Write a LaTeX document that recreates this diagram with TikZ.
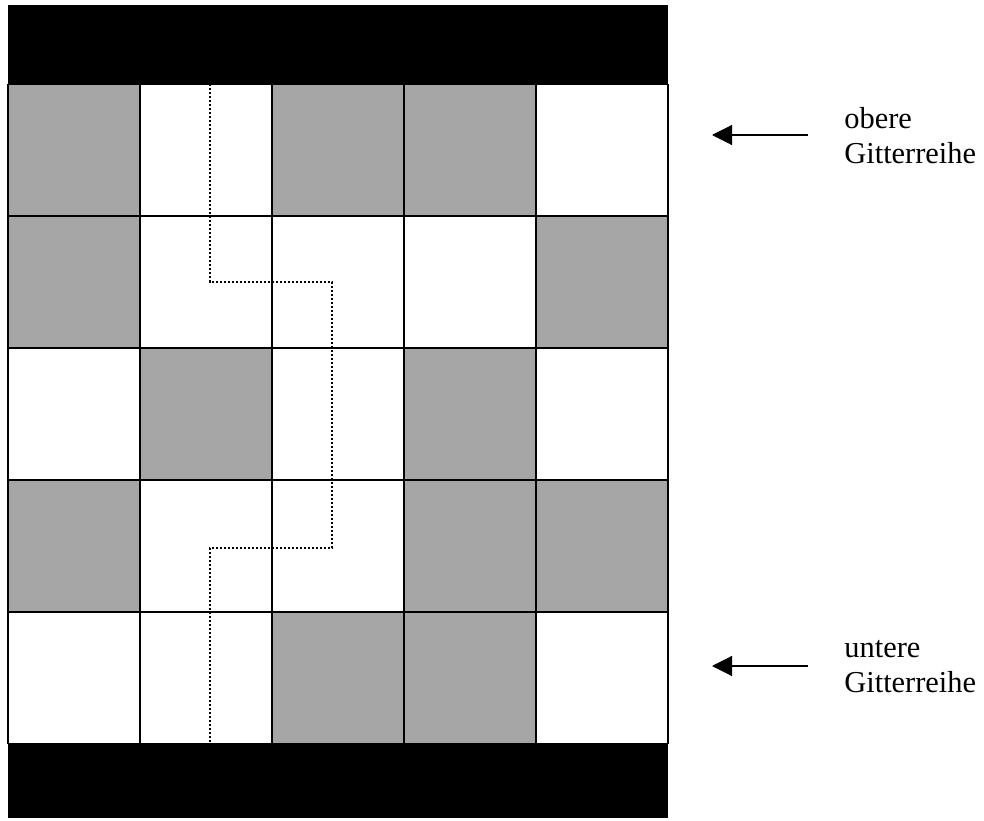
\documentclass[tikz,border=0pt]{standalone}
\usepackage{fontspec}
\setmainfont{Liberation Serif}
\usepackage{tikz}
\usetikzlibrary{arrows.meta}
\definecolor{zellgrau}{gray}{0.65}
\tikzset{
  gitter/.style={line width=1.1pt, draw=black},
  balken/.style={fill=black},
  pfad/.style={line width=1.2pt, dash pattern=on 1.1pt off 0.9pt},
  pfeil/.style={-{Triangle[length=10pt,width=10pt]}, line width=0.6pt},
  beschriftung/.style={align=left, inner sep=0pt, anchor=west,
    font=\fontsize{15.2}{17.5}\selectfont}
}

\begin{document}
\begin{tikzpicture}[x=0.5pt, y=0.5pt]
    \useasboundingbox (0,0) rectangle (984,820);
    % graue Zellen (Spalte/Zeile, Zeile 0 oben)
    \foreach \c/\r in {0/0, 2/0, 3/0, 0/1, 4/1, 1/2, 3/2, 0/3, 3/3, 4/3, 2/4, 3/4}
      \fill[zellgrau] (8+132*\c, 736-132*\r) rectangle ++(132,-132);
    % Gitterlinien
    \foreach \i in {0,...,5} {
      \draw[gitter] (8+132*\i, 76) -- (8+132*\i, 736);
      \draw[gitter] (8, 76+132*\i) -- (668, 76+132*\i);
    }
    % Balken oben und unten
    \fill[balken] (8,736) rectangle (668,815);
    \fill[balken] (8,2) rectangle (668,76);
    % Weg durch das Gitter
    \coordinate (start) at (210,736);
    \coordinate (k1) at (210,538);
    \coordinate (k2) at (332,538);
    \coordinate (k3) at (332,272);
    \coordinate (k4) at (210,272);
    \coordinate (ende) at (210,76);
    \draw[pfad] (start) -- (k1) -- (k2) -- (k3) -- (k4) -- (ende);
    % Beschriftungen
    \node[beschriftung] (oben) at (844,684) {obere\\Gitterreihe};
    \node[beschriftung] (unten) at (844,153) {untere\\Gitterreihe};
    \coordinate (obenstart) at (808,685);
    \coordinate (obenziel) at (712,685);
    \coordinate (untenstart) at (808,154);
    \coordinate (untenziel) at (712,154);
    \draw[pfeil] (obenstart) -- (obenziel);
    \draw[pfeil] (untenstart) -- (untenziel);
  \end{tikzpicture}
\end{document}
